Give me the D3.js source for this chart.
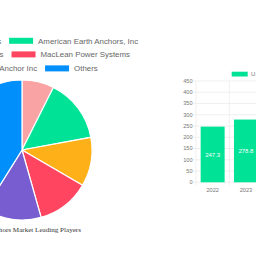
<!DOCTYPE html>
<html>
<head>
<meta charset="utf-8">
<script src="https://cdn.jsdelivr.net/npm/d3@7"></script>
<style>
  html, body { margin: 0; padding: 0; background: #fff; }
  svg { display: block; }
</style>
</head>
<body>
<div id="chart"></div>
<script>
// pie: leading players share
const players = ['Foresight Products', 'American Earth Anchors, Inc', 'Chance Products',
  'MacLean Power Systems', 'Vortex Anchor Inc', 'Others']
const shares = [7.4, 14.7, 11.3, 12.2, 13.3, 41.1]
const pieColors = ['#F9A3A4', '#00E396', '#FEB019', '#FF4560', '#775DD0', '#008FFB']
const pieTitle = 'Earth Anchors Market Leading Players'

// bars: market size by year
const years = ['2022', '2023']
const sizes = [247.3, 278.8]
const yTicks = [0, 50, 100, 150, 200, 250, 300, 350, 400, 450]
const barSeries = 'U.S. Market Size'

const W = 256, H = 256
const svg = d3.select('#chart').append('svg')
  .attr('width', W).attr('height', H)

// ---- pie ----
const cx = 22, cy = 150, r = 70
const pie = d3.pie().sort(null).value(d => d)
const arc = d3.arc().innerRadius(0).outerRadius(r)

svg.append('g')
  .attr('transform', `translate(${cx},${cy})`)
  .selectAll('path')
  .data(pie(shares))
  .join('path')
  .attr('d', arc)
  .attr('fill', (d, i) => pieColors[i])
  .attr('stroke', '#fff')
  .attr('stroke-width', 1.2)

svg.append('text')
  .attr('x', 81).attr('y', 231.8)
  .attr('text-anchor', 'end')
  .attr('font-family', 'Liberation Serif, serif')
  .attr('font-size', 7.1)
  .attr('fill', '#333')
  .text(pieTitle)

// legend, two items per row, each row centred on the pie
const legFont = 7.9, boxW = 24, boxH = 6, boxGap = 5, itemGap = 8
const legend = svg.append('g')
  .attr('font-family', 'Liberation Sans, Arial, sans-serif')
  .attr('font-size', legFont)
  .attr('fill', '#666')
const rowsY = [40.8, 54.4, 68.4]
d3.range(3).forEach(row => {
  const items = [row * 2, row * 2 + 1]
  const g = legend.append('g')
  const widths = items.map(i => {
    const t = g.append('text').text(players[i])
    const w = t.node().getComputedTextLength()
    t.remove()
    return boxW + boxGap + w
  })
  let x = cx - (widths[0] + itemGap + widths[1]) / 2
  items.forEach((i, k) => {
    g.append('rect')
      .attr('x', x).attr('y', rowsY[row] - boxH / 2)
      .attr('width', boxW).attr('height', boxH)
      .attr('fill', pieColors[i])
    g.append('text')
      .attr('x', x + boxW + boxGap).attr('y', rowsY[row])
      .attr('dy', '0.35em')
      .text(players[i])
    x += widths[k] + itemGap
  })
})

// ---- bar chart ----
const plot = { left: 196, top: 81, bottom: 182.3, right: 262.6 }
const x = d3.scaleBand().domain(years).range([plot.left, plot.right])
const y = d3.scaleLinear().domain([0, 450]).range([plot.bottom, plot.top])

const grid = svg.append('g').attr('stroke', '#e6e6e6').attr('stroke-width', 0.6)
grid.selectAll('.h').data(yTicks).join('line')
  .attr('x1', plot.left - 3).attr('x2', W)
  .attr('y1', d => y(d)).attr('y2', d => y(d))
grid.selectAll('.v').data(years.concat(['end'])).join('line')
  .attr('x1', (d, i) => plot.left + i * x.bandwidth())
  .attr('x2', (d, i) => plot.left + i * x.bandwidth())
  .attr('y1', plot.top).attr('y2', plot.bottom + 3)

const axisFont = { family: 'Liberation Sans, Arial, sans-serif', size: 5.6, color: '#777' }
svg.append('g').selectAll('text').data(yTicks).join('text')
  .attr('x', plot.left - 3.5).attr('y', d => y(d))
  .attr('dy', '0.35em').attr('text-anchor', 'end')
  .attr('font-family', axisFont.family).attr('font-size', axisFont.size)
  .attr('fill', axisFont.color)
  .text(d => d)
svg.append('g').selectAll('text').data(years).join('text')
  .attr('x', d => x(d) + x.bandwidth() / 2).attr('y', plot.bottom + 7.5)
  .attr('dy', '0.35em').attr('text-anchor', 'middle')
  .attr('font-family', axisFont.family).attr('font-size', axisFont.size)
  .attr('fill', axisFont.color)
  .text(d => d)

const barW = x.bandwidth() * 0.72
svg.append('g').selectAll('rect').data(sizes).join('rect')
  .attr('x', (d, i) => x(years[i]) + (x.bandwidth() - barW) / 2)
  .attr('y', d => y(d))
  .attr('width', barW)
  .attr('height', d => plot.bottom - y(d))
  .attr('fill', '#00E396')
svg.append('g').selectAll('text').data(sizes).join('text')
  .attr('x', (d, i) => x(years[i]) + x.bandwidth() / 2)
  .attr('y', d => (y(d) + plot.bottom) / 2)
  .attr('dy', '0.35em').attr('text-anchor', 'middle')
  .attr('font-family', axisFont.family).attr('font-size', 6)
  .attr('fill', '#fff')
  .text(d => d.toFixed(1))

// bar legend
svg.append('rect')
  .attr('x', plot.left + 35.7).attr('y', 71.7)
  .attr('width', 16).attr('height', 4.8)
  .attr('fill', '#00E396')
svg.append('text')
  .attr('x', plot.left + 55).attr('y', 74.1)
  .attr('dy', '0.35em')
  .attr('font-family', axisFont.family).attr('font-size', 6)
  .attr('fill', '#777')
  .text(barSeries)
</script>
</body>
</html>
